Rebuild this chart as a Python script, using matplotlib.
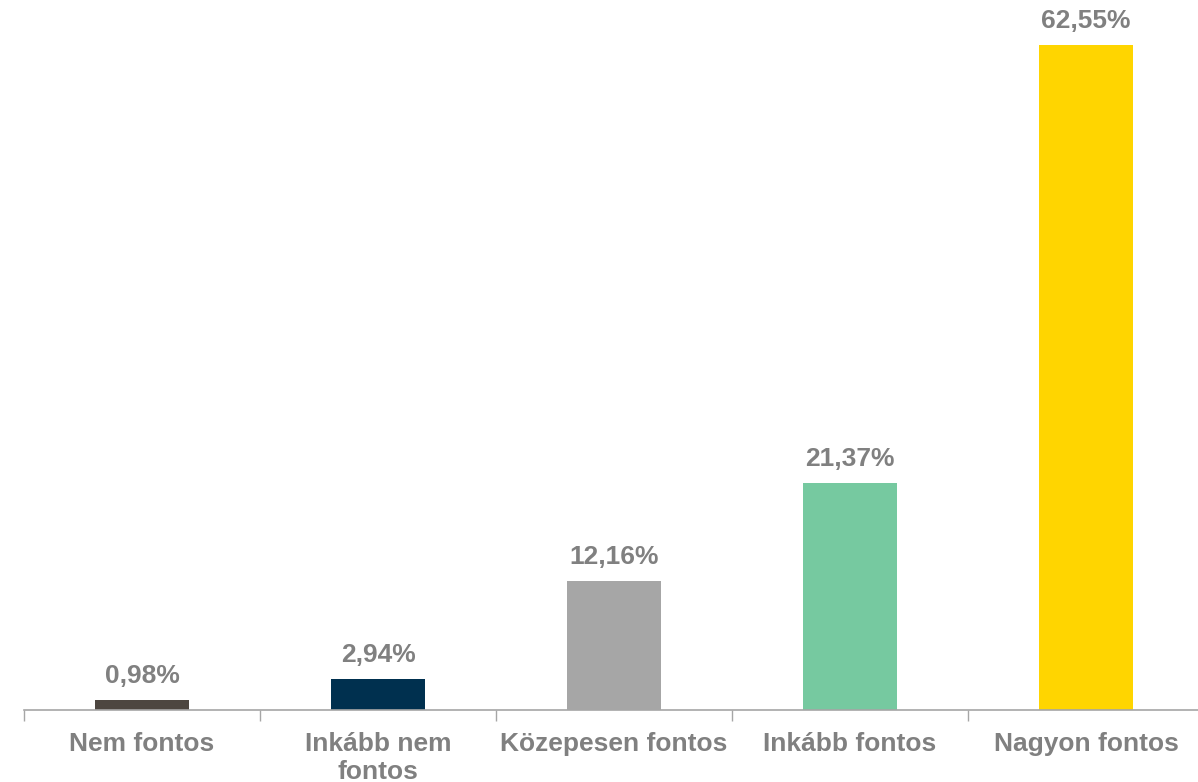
import matplotlib.pyplot as plt

# Data
categories = ['Nem fontos', 'Inkább nem\nfontos', 'Közepesen fontos', 'Inkább fontos', 'Nagyon fontos']
values = [0.98, 2.94, 12.16, 21.37, 62.55]
labels = ['0,98%', '2,94%', '12,16%', '21,37%', '62,55%']
colors = ['#4D4640', '#00304F', '#A6A6A6', '#76C9A0', '#FFD500']

plt.rcParams['font.family'] = ['Liberation Sans', 'DejaVu Sans']
grey = '#808080'

fig = plt.figure(figsize=(11.98, 7.82), dpi=100)
ax = fig.add_axes([24 / 1198, 1 - 710 / 782, 1180 / 1198, 710 / 782])

x = range(len(categories))
bars = ax.bar(x, values, width=0.4, color=colors)

for b, lab in zip(bars, labels):
    ax.text(b.get_x() + b.get_width() / 2, b.get_height() + 1.1, lab,
            ha='center', va='bottom', fontsize=19, fontweight='bold', color=grey)

ax.set_xlim(-0.5, len(categories) - 0.5)
ax.set_ylim(0, 66.8)

# ticks sit between categories
ax.set_xticks([i - 0.5 for i in range(len(categories) + 1)], minor=False)
ax.set_xticklabels([])
ax.set_xticks(list(x), minor=True)
ax.set_xticklabels(categories, minor=True, fontsize=19, fontweight='bold',
                   color=grey, linespacing=1.2)
ax.tick_params(axis='x', which='major', length=8, color='#A6A6A6', width=1)
ax.tick_params(axis='x', which='minor', length=0, pad=16)

ax.set_yticks([])
for s in ['top', 'right', 'left']:
    ax.spines[s].set_visible(False)
ax.spines['bottom'].set_color('#A6A6A6')
ax.spines['bottom'].set_linewidth(1.2)

plt.savefig('out.png', dpi=100)
